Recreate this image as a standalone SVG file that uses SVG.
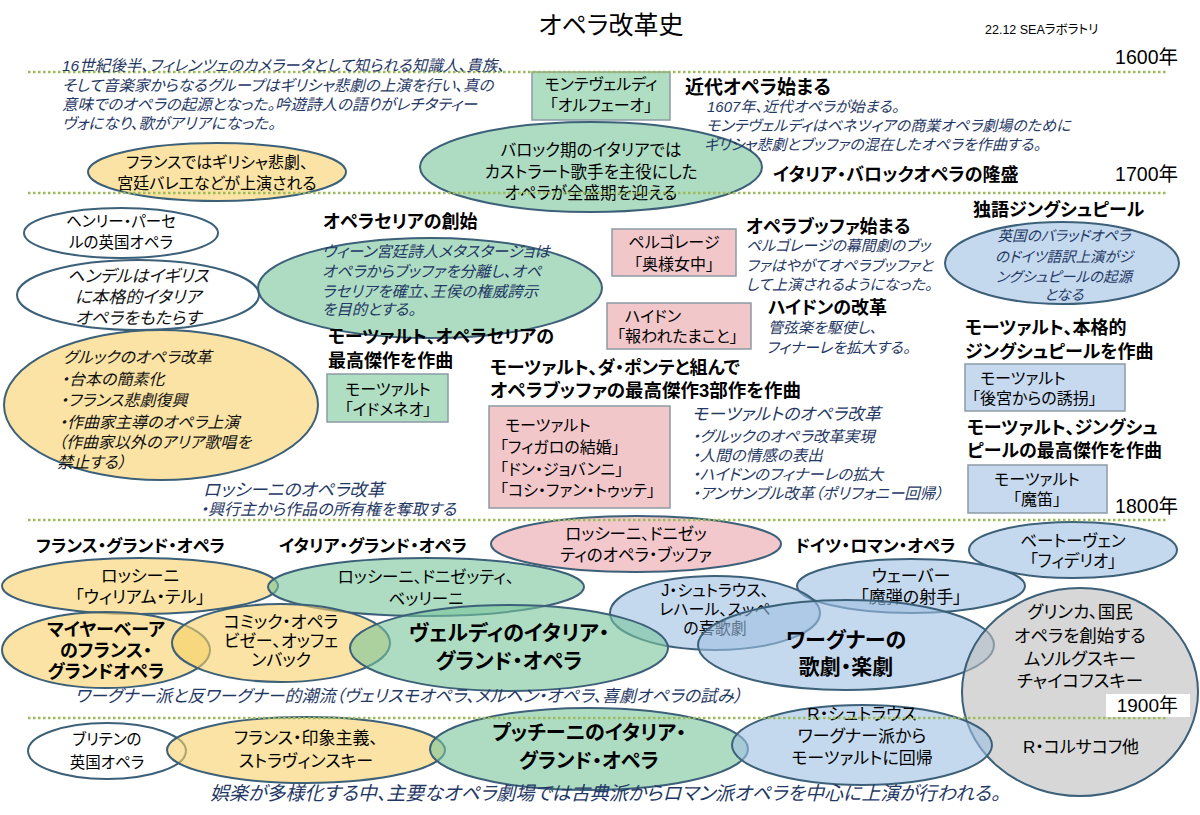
<svg xmlns="http://www.w3.org/2000/svg" width="1200" height="815" viewBox="0 0 1200 815">
<style>
text{font-family:"Liberation Sans","Noto Sans CJK JP",sans-serif;fill:#000;font-feature-settings:"palt"}
.b{font-weight:bold}
.i{font-style:italic;fill:#1f3864}
.ik{font-style:italic;fill:#111}
.m{text-anchor:middle}
.e{text-anchor:end}
.el{stroke:#3d6079;stroke-width:2}
.y{fill:#f7d067;fill-opacity:.6}
.g{fill:#78c59b;fill-opacity:.6}
.bl{fill:#9ec0e3;fill-opacity:.6}
.p{fill:#e9a3aa;fill-opacity:.6}
.gr{fill:#bdbdbd;fill-opacity:.6}
.w{fill:#fff;fill-opacity:.6}
.r{stroke:#8c9aa5;stroke-width:1.5}
.rg{fill:#b0dec3}.rp{fill:#f2c7ca}.rb{fill:#c6d9ef}
.dl{stroke:#9bbb59;stroke-width:2.5;stroke-dasharray:2.5 2.5}
</style>

<g id="header">
<text x="611" y="34" class="m" font-size="25">オペラ改革史</text>
<text x="985" y="34" font-size="12.5">22.12 SEAラボラトリ</text>
</g>

<g id="node-france-early">
<ellipse cx="217" cy="172" rx="129" ry="29" class="el y"/>
<text x="217" y="168" class="m" font-size="16">フランスではギリシャ悲劇、</text>
<text x="217" y="189" class="m" font-size="16">宮廷バレエなどが上演される</text>
</g>
<g id="node-baroque">
<ellipse cx="591" cy="167" rx="171" ry="45" class="el g"/>
<text x="591" y="156" class="m" font-size="16.5">バロック期のイタリアでは</text>
<text x="591" y="178" class="m" font-size="16.5">カストラート歌手を主役にした</text>
<text x="591" y="199" class="m" font-size="16.5">オペラが全盛期を迎える</text>
</g>
<g id="node-orfeo">
<rect x="532" y="72" width="138" height="48" class="r rg"/>
<text x="601" y="90" class="m" font-size="16">モンテヴェルディ</text>
<text x="601" y="111" class="m" font-size="16">「オルフェーオ」</text>
</g>

<g id="node-purcell">
<ellipse cx="121" cy="233" rx="97" ry="25" class="el w"/>
<text x="121" y="227" class="m" font-size="15.5">ヘンリー・パーセ</text>
<text x="121" y="248" class="m" font-size="15.5">ルの英国オペラ</text>
</g>
<g id="node-handel">
<ellipse cx="138" cy="295" rx="121" ry="35" class="el w"/>
<text x="138" y="282" class="m ik" font-size="17">ヘンデルはイギリス</text>
<text x="138" y="303" class="m ik" font-size="17">に本格的イタリア</text>
<text x="138" y="324" class="m ik" font-size="17">オペラをもたらす</text>
</g>
<g id="node-seria">
<ellipse cx="430" cy="288" rx="172" ry="50" class="el g"/>
<text x="322" y="257" class="i" font-size="15.5">ウィーン宮廷詩人メタスタージョは</text>
<text x="322" y="277" class="i" font-size="15.5">オペラからブッファを分離し、オペ</text>
<text x="322" y="297" class="i" font-size="15.5">ラセリアを確立、王侯の権威誇示</text>
<text x="322" y="315" class="i" font-size="15.5">を目的とする。</text>
</g>
<g id="node-pergolesi">
<rect x="612" y="229" width="124" height="47" class="r rp"/>
<text x="674" y="248" class="m" font-size="16">ペルゴレージ</text>
<text x="674" y="270" class="m" font-size="16">「奥様女中」</text>
</g>
<g id="node-singspiel">
<ellipse cx="1062" cy="263" rx="117" ry="41" class="el bl"/>
<text x="1064" y="241" class="m i" font-size="14.5">英国のバラッドオペラ</text>
<text x="1064" y="262" class="m i" font-size="14.5">のドイツ語訳上演がジ</text>
<text x="1064" y="282" class="m i" font-size="14.5">ングシュピールの起源</text>
<text x="1064" y="300" class="m i" font-size="14.5">となる</text>
</g>
<g id="node-haydn">
<rect x="607" y="303" width="144" height="46" class="r rp"/>
<text x="625" y="322" font-size="16">ハイドン</text>
<text x="617" y="342" font-size="16">「報われたまこと」</text>
</g>
<g id="node-gluck">
<ellipse cx="161" cy="405" rx="157" ry="75" class="el y"/>
<text x="63" y="363" class="ik" font-size="16">グルックのオペラ改革</text>
<text x="61" y="385" class="ik" font-size="16">・台本の簡素化</text>
<text x="60" y="406" class="ik" font-size="16">・フランス悲劇復興</text>
<text x="59" y="428" class="ik" font-size="16">・作曲家主導のオペラ上演</text>
<text x="58" y="448" class="ik" font-size="16">（作曲家以外のアリア歌唱を</text>
<text x="57" y="468" class="ik" font-size="16">禁止する）</text>
</g>
<g id="node-idomeneo">
<rect x="327" y="374" width="121" height="48" class="r rg"/>
<text x="388" y="395" class="m" font-size="16">モーツァルト</text>
<text x="388" y="415" class="m" font-size="16">「イドメネオ」</text>
</g>
<g id="node-daponte">
<rect x="489" y="406" width="181" height="102" class="r rp"/>
<text x="505" y="431" font-size="16">モーツァルト</text>
<text x="500" y="453" font-size="16">「フィガロの結婚」</text>
<text x="500" y="475" font-size="16">「ドン・ジョバンニ」</text>
<text x="500" y="496" font-size="16">「コシ・ファン・トゥッテ」</text>
</g>
<g id="node-entfuehrung">
<rect x="965" y="364" width="160" height="47" class="r rb"/>
<text x="980" y="384" font-size="16">モーツァルト</text>
<text x="972" y="404" font-size="16">「後宮からの誘拐」</text>
</g>
<g id="node-zauberfloete">
<rect x="968" y="465" width="139" height="48" class="r rb"/>
<text x="1037" y="485" class="m" font-size="16">モーツァルト</text>
<text x="1037" y="505" class="m" font-size="16">「魔笛」</text>
</g>

<g id="node-rossini-buffa">
<ellipse cx="636" cy="544" rx="145" ry="28" class="el p"/>
<text x="636" y="540" class="m" font-size="16.5">ロッシーニ、ドニゼッ</text>
<text x="636" y="561" class="m" font-size="16.5">ティのオペラ・ブッファ</text>
</g>
<g id="node-fidelio">
<ellipse cx="1073" cy="550" rx="104" ry="28" class="el bl"/>
<text x="1073" y="547" class="m" font-size="16.5">ベートーヴェン</text>
<text x="1073" y="567" class="m" font-size="16.5">「フィデリオ」</text>
</g>
<g id="node-tell">
<ellipse cx="140" cy="586" rx="138" ry="28" class="el y"/>
<text x="140" y="582" class="m" font-size="17">ロッシーニ</text>
<text x="140" y="603" class="m" font-size="17">「ウィリアム・テル」</text>
</g>
<g id="node-italian-grand">
<ellipse cx="426" cy="587" rx="158" ry="29" class="el g"/>
<text x="426" y="583" class="m" font-size="16.5">ロッシーニ、ドニゼッティ、</text>
<text x="426" y="605" class="m" font-size="16.5">ベッリーニ</text>
</g>
<g id="node-weber">
<ellipse cx="911" cy="586" rx="114" ry="27" class="el bl"/>
<text x="911" y="582" class="m" font-size="17">ウェーバー</text>
<text x="911" y="603" class="m" font-size="17">「魔弾の射手」</text>
</g>
<g id="node-jstrauss">
<ellipse cx="715" cy="613" rx="105" ry="37" class="el bl"/>
<text x="715" y="596" class="m" font-size="16">J・シュトラウス、</text>
<text x="715" y="615" class="m" font-size="16">レハール、スッペ</text>
<text x="715" y="634" class="m" font-size="16">の喜歌劇</text>
</g>
<g id="node-meyerbeer">
<ellipse cx="106" cy="650" rx="104" ry="38" class="el y"/>
<text x="106" y="636" class="m b" font-size="18">マイヤーベーア</text>
<text x="106" y="657" class="m b" font-size="18">のフランス・</text>
<text x="106" y="678" class="m b" font-size="18">グランドオペラ</text>
</g>
<g id="node-comique">
<ellipse cx="281" cy="643" rx="109" ry="39" class="el y"/>
<text x="281" y="628" class="m" font-size="17">コミック・オペラ</text>
<text x="281" y="647" class="m" font-size="17">ビゼー、オッフェ</text>
<text x="281" y="666" class="m" font-size="17">ンバック</text>
</g>
<g id="node-verdi">
<ellipse cx="509" cy="648" rx="159" ry="43" class="el g"/>
<text x="509" y="640" class="m b" font-size="21">ヴェルディのイタリア・</text>
<text x="509" y="668" class="m b" font-size="21">グランド・オペラ</text>
</g>
<g id="node-wagner">
<ellipse cx="846" cy="645" rx="148" ry="45" class="el bl"/>
<text x="846" y="647" class="m b" font-size="21">ワーグナーの</text>
<text x="846" y="674" class="m b" font-size="21">歌劇・楽劇</text>
</g>
<g id="node-national">
<ellipse cx="1080" cy="692" rx="118" ry="104" class="el gr"/>
<text x="1080" y="618" class="m" font-size="17.5">グリンカ、国民</text>
<text x="1080" y="642" class="m" font-size="17.5">オペラを創始する</text>
<text x="1080" y="665" class="m" font-size="17.5">ムソルグスキー</text>
<text x="1080" y="687" class="m" font-size="17.5">チャイコフスキー</text>
<text x="1081" y="753" class="m" font-size="17">R・コルサコフ他</text>
</g>

<g id="node-britten">
<ellipse cx="107" cy="751" rx="79" ry="28" class="el w"/>
<text x="107" y="745" class="m" font-size="15.5">ブリテンの</text>
<text x="107" y="768" class="m" font-size="15.5">英国オペラ</text>
</g>
<g id="node-impressionism">
<ellipse cx="306" cy="750" rx="139" ry="33" class="el y"/>
<text x="306" y="744" class="m" font-size="17">フランス・印象主義、</text>
<text x="306" y="767" class="m" font-size="17">ストラヴィンスキー</text>
</g>
<g id="node-puccini">
<ellipse cx="589" cy="749" rx="159" ry="41" class="el g"/>
<text x="589" y="740" class="m b" font-size="20">プッチーニのイタリア・</text>
<text x="589" y="768" class="m b" font-size="20">グランド・オペラ</text>
</g>
<g id="node-rstrauss">
<ellipse cx="862" cy="745" rx="130" ry="40" class="el bl"/>
<text x="862" y="720" class="m" font-size="17">R・シュトラウス</text>
<text x="862" y="742" class="m" font-size="17">ワーグナー派から</text>
<text x="862" y="764" class="m" font-size="17">モーツァルトに回帰</text>
</g>

<g id="connectors">
<line x1="28" y1="72" x2="1168" y2="72" class="dl"/>
<line x1="28" y1="193" x2="1168" y2="193" class="dl"/>
<line x1="28" y1="520" x2="1168" y2="520" class="dl"/>
<line x1="28" y1="718" x2="1168" y2="718" class="dl"/>
</g>

<g id="year-labels">
<text x="1178" y="64" class="e" font-size="19.5">1600年</text>
<text x="1178" y="181" class="e" font-size="19.5">1700年</text>
<text x="1178" y="513" class="e" font-size="19.5">1800年</text>
<rect x="1106" y="694" width="84" height="23" fill="#fff"/>
<text x="1178" y="712" class="e" font-size="19">1900年</text>
</g>

<g id="notes">
<text x="62" y="71" class="i" font-size="15.5">16世紀後半、フィレンツェのカメラータとして知られる知識人、貴族、</text>
<text x="62" y="91" class="i" font-size="15.5">そして音楽家からなるグループはギリシャ悲劇の上演を行い、真の</text>
<text x="62" y="110" class="i" font-size="15.5">意味でのオペラの起源となった。吟遊詩人の語りがレチタティー</text>
<text x="62" y="129" class="i" font-size="15.5">ヴォになり、歌がアリアになった。</text>

<text x="685" y="94" class="b" font-size="19">近代オペラ始まる</text>
<text x="707" y="112" class="i" font-size="15">1607年、近代オペラが始まる。</text>
<text x="706" y="131" class="i" font-size="15">モンテヴェルディはベネツィアの商業オペラ劇場のために</text>
<text x="704" y="150" class="i" font-size="15">ギリシャ悲劇とブッファの混在したオペラを作曲する。</text>
<text x="773" y="181" class="b" font-size="18">イタリア・バロックオペラの隆盛</text>

<text x="323" y="228" class="b" font-size="18">オペラセリアの創始</text>
<text x="746" y="233" class="b" font-size="18">オペラブッファ始まる</text>
<text x="746" y="251" class="i" font-size="15">ペルゴレージの幕間劇のブッ</text>
<text x="746" y="271" class="i" font-size="15">ファはやがてオペラブッファと</text>
<text x="746" y="290" class="i" font-size="15">して上演されるようになった。</text>
<text x="973" y="216" class="b" font-size="18">独語ジングシュピール</text>
<text x="768" y="314" class="b" font-size="18">ハイドンの改革</text>
<text x="768" y="333" class="i" font-size="15">管弦楽を駆使し、</text>
<text x="766" y="353" class="i" font-size="15">フィナーレを拡大する。</text>
<text x="965" y="334" class="b" font-size="18">モーツァルト、本格的</text>
<text x="965" y="358" class="b" font-size="18">ジングシュピールを作曲</text>
<text x="967" y="434" class="b" font-size="18">モーツァルト、ジングシュ</text>
<text x="967" y="457" class="b" font-size="18">ピールの最高傑作を作曲</text>
<text x="328" y="343" class="b" font-size="18">モーツァルト、オペラセリアの</text>
<text x="328" y="367" class="b" font-size="18">最高傑作を作曲</text>
<text x="490" y="374" class="b" font-size="18">モーツァルト、ダ・ポンテと組んで</text>
<text x="490" y="397" class="b" font-size="18.5">オペラブッファの最高傑作3部作を作曲</text>
<text x="692" y="420" class="i" font-size="17">モーツァルトのオペラ改革</text>
<text x="692" y="442" class="i" font-size="15.5">・グルックのオペラ改革実現</text>
<text x="692" y="461" class="i" font-size="15.5">・人間の情感の表出</text>
<text x="692" y="480" class="i" font-size="15.5">・ハイドンのフィナーレの拡大</text>
<text x="692" y="499" class="i" font-size="15.5">・アンサンブル改革（ポリフォニー回帰）</text>
<text x="203" y="496" class="i" font-size="17.5">ロッシーニのオペラ改革</text>
<text x="200" y="515" class="i" font-size="16">・興行主から作品の所有権を奪取する</text>

<text x="36" y="552" class="b" font-size="17">フランス・グランド・オペラ</text>
<text x="279" y="552" class="b" font-size="17">イタリア・グランド・オペラ</text>
<text x="795" y="552" class="b" font-size="17">ドイツ・ロマン・オペラ</text>
<text x="75" y="702" class="i" font-size="17">ワーグナー派と反ワーグナー的潮流（ヴェリスモオペラ、メルヘン・オペラ、喜劇オペラの試み）</text>
<text x="210" y="800" class="i" font-size="19">娯楽が多様化する中、主要なオペラ劇場では古典派からロマン派オペラを中心に上演が行われる。</text>
</g>
</svg>
